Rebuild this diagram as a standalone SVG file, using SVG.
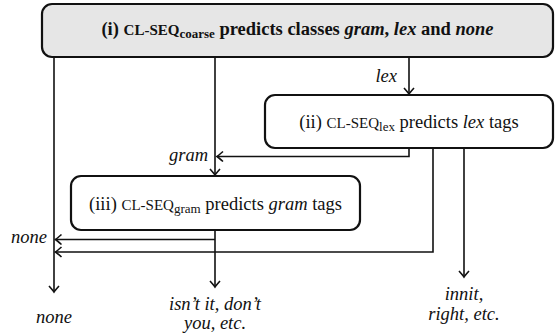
<svg xmlns="http://www.w3.org/2000/svg" width="555" height="336" viewBox="0 0 555 336">
<style>
.box{fill:#fff;stroke:#111;stroke-width:2.2}
.top{fill:#e6e6e6}
text{font-family:'Liberation Serif','Times New Roman',serif;font-size:18.5px;fill:#111}
.i{font-style:italic}
.c{stroke:#111;stroke-width:1.6;fill:none;marker-end:url(#ah)}
</style>
<defs>
<marker id="ah" markerUnits="userSpaceOnUse" markerWidth="14" markerHeight="14" refX="0" refY="0" viewBox="-8 -7 10 14" orient="auto">
<path d="M-6,-5 Q-1.5,-1 0,0 Q-1.5,1 -6,5" fill="none" stroke="#111" stroke-width="1.6"/>
</marker>
</defs>
<rect width="555" height="336" fill="#fff"/>
<g id="connectors">
<path class="c" d="M54,57 V292"/>
<path class="c" d="M215,57 V175"/>
<path class="c" d="M409,57 V94"/>
<path class="c" d="M409,148 V156.5 H217"/>
<path class="c" d="M215,230 V287"/>
<path class="c" d="M215,239.5 H55.5"/>
<path class="c" d="M433,148 V252 H55.5"/>
<path class="c" d="M464,148 V277"/>
<text class="i" x="397" y="82" text-anchor="end">lex</text>
<text class="i" x="208" y="161" text-anchor="end">gram</text>
<text class="i" x="47" y="243" text-anchor="end">none</text>
<text class="i" x="54" y="323" text-anchor="middle">none</text>
<text class="i" x="215" y="310" text-anchor="middle">isn’t it, don’t</text>
<text class="i" x="215" y="329" text-anchor="middle">you, etc.</text>
<text class="i" x="464" y="300" text-anchor="middle">innit,</text>
<text class="i" x="464" y="320" text-anchor="middle">right, etc.</text>
</g>
<g id="node-coarse">
<rect class="box top" x="42" y="4" width="511" height="53" rx="10"/>
<text x="297.5" y="35" text-anchor="middle" font-weight="bold">(i) <tspan font-size="15">CL-SEQ</tspan><tspan font-size="13" dy="3">coarse</tspan><tspan dy="-3"> predicts classes </tspan><tspan class="i">gram</tspan>, <tspan class="i">lex</tspan> and <tspan class="i">none</tspan></text>
</g>
<g id="node-lex">
<rect class="box" x="265" y="95" width="288" height="53" rx="10"/>
<text x="409" y="127.5" text-anchor="middle">(ii) <tspan font-size="15">CL-SEQ</tspan><tspan font-size="13" dy="3">lex</tspan><tspan dy="-3"> predicts </tspan><tspan class="i">lex</tspan> tags</text>
</g>
<g id="node-gram">
<rect class="box" x="71" y="176" width="289" height="54" rx="10"/>
<text x="215.5" y="209.5" text-anchor="middle">(iii) <tspan font-size="15">CL-SEQ</tspan><tspan font-size="13" dy="3">gram</tspan><tspan dy="-3"> predicts </tspan><tspan class="i">gram</tspan> tags</text>
</g>
</svg>
